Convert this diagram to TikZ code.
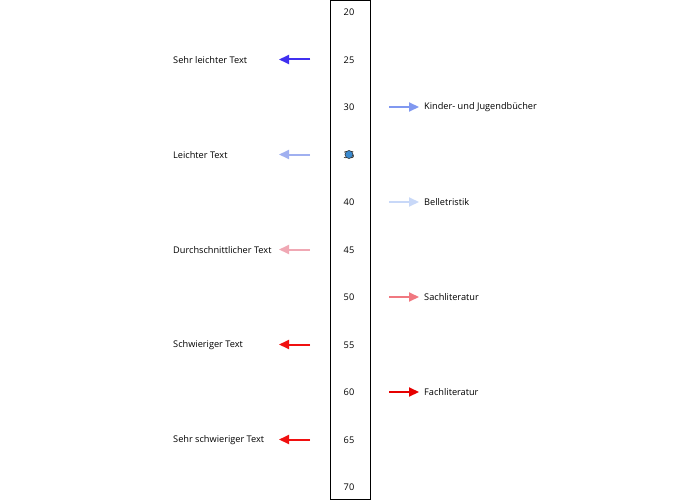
\documentclass[tikz,border=0pt]{standalone}
\usepackage{fontspec}
\setmainfont{Open Sans}
\usetikzlibrary{arrows.meta}
\definecolor{cSL}{RGB}{64,48,240}
\definecolor{cL}{RGB}{160,176,240}
\definecolor{cD}{RGB}{240,168,180}
\definecolor{cS}{RGB}{240,16,16}
\definecolor{cSS}{RGB}{240,16,16}
\definecolor{cK}{RGB}{128,152,240}
\definecolor{cB}{RGB}{200,216,248}
\definecolor{cSa}{RGB}{240,120,128}
\definecolor{cF}{RGB}{230,0,0}
\definecolor{cDot}{RGB}{58,138,208}
\tikzset{
  lbl/.style={font=\fontsize{9.2}{11}\selectfont, inner sep=0pt},
  num/.style={font=\fontsize{9.2}{11}\selectfont, inner sep=0pt},
  arr/.style={line width=2pt, -{Triangle[length=10pt,width=9pt]}},
}
\begin{document}
\begin{tikzpicture}[x=1pt,y=-1pt]
\useasboundingbox (0,0) rectangle (700,500);
\node[draw, line width=0.8pt, minimum width=40pt, minimum height=499pt, inner sep=0pt] (scale) at (350,249.5) {};
\foreach \v/\y in {20/12.5,25/60,30/107.5,40/202.5,45/250,50/297.5,55/345,60/392.5,65/440,70/487.5} {
  \node[num] (n\v) at (349,\y) {\v};
}
\node[num] (n35) at (349,155) {35};
\node[circle, draw=black!80, fill=cDot, line width=0.6pt, inner sep=0pt, minimum size=8pt] (dot) at (349,154.5) {};
% left
\foreach \k/\y/\c/\t in {a/59.5/cSL/Sehr leichter Text, b/154.5/cL/Leichter Text, c/249.5/cD/Durchschnittlicher Text, d/344.5/cS/Schwieriger Text, e/439.5/cSS/Sehr schwieriger Text} {
  \node[lbl, anchor=west] (l\k) at (173,\y+0.5) {\t};
  \coordinate (ls\k) at (310,\y);
  \coordinate (le\k) at (279,\y);
  \draw[arr, draw=\c, fill=\c] (ls\k) -- (le\k);
}
% right
\foreach \k/\y/\c/\t in {a/107/cK/Kinder- und Jugendbücher, b/202/cB/Belletristik, c/297/cSa/Sachliteratur, d/392/cF/Fachliteratur} {
  \node[lbl, anchor=west] (r\k) at (424,\y+0.5) {\t};
  \coordinate (rs\k) at (389,\y);
  \coordinate (re\k) at (419,\y);
  \draw[arr, draw=\c, fill=\c] (rs\k) -- (re\k);
}
\end{tikzpicture}
\end{document}
